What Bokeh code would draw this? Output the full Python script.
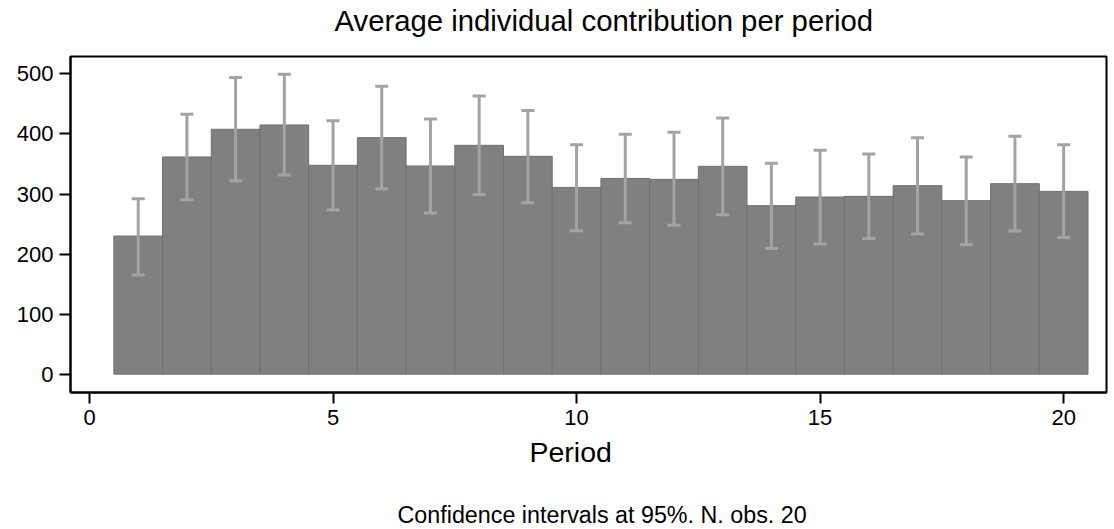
from bokeh.plotting import figure
from bokeh.models import Range1d, FixedTicker, Whisker, TeeHead, ColumnDataSource, Title
from bokeh.embed import file_html
from bokeh.resources import INLINE

# ---- data ----
periods = list(range(1, 21))
means = [230, 361.7, 407.8, 415, 347.8, 393.9, 346.7, 381.1, 362.8, 311,
         326, 324.4, 346.1, 280.6, 295, 296.1, 313.9, 288.9, 317.2, 304.4]
upper = [292.2, 432.8, 493.9, 499.4, 422.2, 479.4, 425, 463.3, 438.9, 382.2,
         399.4, 402.8, 426.7, 351.1, 372.8, 366.7, 393.9, 361.7, 396.1, 382.2]
lower = [165, 290.6, 322.2, 331.7, 273.3, 308.9, 268.4, 299.4, 285.6, 238.9,
         252.2, 247.8, 265.6, 209.4, 216.7, 226.1, 233.3, 216.1, 238.3, 227.5]
x_ticks = [0, 5, 10, 15, 20]
y_ticks = [0, 100, 200, 300, 400, 500]

title_text = "Average individual contribution per period"
x_title = "Period"
caption = "Confidence intervals at 95%. N. obs. 20"

FONT = "Liberation Sans"

W, H = 1108, 529
F_LEFT, F_TOP, F_RIGHT, F_BOTTOM = 70, 56, 1106, 392

src = ColumnDataSource(dict(x=periods, top=means, upper=upper, lower=lower))

p = figure(width=W, height=H,
           x_range=Range1d(-0.39, 20.88), y_range=Range1d(-30.5, 529),
           output_backend="svg", toolbar_location=None,
           min_border_left=F_LEFT, min_border_right=W - F_RIGHT,
           min_border_top=F_TOP, min_border_bottom=H - F_BOTTOM)

p.vbar(x="x", top="top", width=1.0, source=src,
       fill_color="#808080", line_color="#6f6f6f", line_width=1)

err_color = "#a3a3a3"
p.add_layout(Whisker(source=src, base="x", upper="upper", lower="lower",
                     level="overlay",
                     line_color=err_color, line_width=3,
                     upper_head=TeeHead(size=13, line_color=err_color, line_width=3),
                     lower_head=TeeHead(size=13, line_color=err_color, line_width=3)))

# axes
for ax in (p.xaxis[0], p.yaxis[0]):
    ax.major_tick_out = 11
    ax.major_tick_in = 0
    ax.minor_tick_line_color = None
    ax.axis_line_width = 2
    ax.axis_line_color = "black"
    ax.major_tick_line_width = 2
    ax.major_tick_line_color = "black"
    ax.major_label_text_font = FONT
    ax.major_label_text_font_size = "22px"
    ax.major_label_text_color = "black"
p.xaxis.ticker = FixedTicker(ticks=x_ticks)
p.yaxis.ticker = FixedTicker(ticks=y_ticks)
p.xaxis.major_label_standoff = 6
p.yaxis.major_label_standoff = 6

p.xgrid.grid_line_color = None
p.ygrid.grid_line_color = None
p.outline_line_color = "black"
p.outline_line_width = 2
p.outline_line_alpha = 1.0
p.background_fill_color = "white"
p.border_fill_color = "white"


def spacer(gap):
    return Title(text=" ", text_font_size="10px", standoff=gap)


def txt(text, size, left_offset, standoff=0):
    return Title(text=text, align="left", offset=left_offset, text_font=FONT,
                 text_font_size=size, text_font_style="normal",
                 text_color="black", standoff=standoff)


# above (first added = closest to the frame)
p.title.text = ""
p.add_layout(spacer(7.4), "above")
p.add_layout(txt(title_text, "29.3px", 264), "above")

# below (after the x axis)
p.add_layout(txt(x_title, "28.5px", 459, standoff=13), "below")
p.add_layout(spacer(11.5), "below")
p.add_layout(txt(caption, "23.3px", 327), "below")

open("out.html", "w").write(file_html(p, INLINE))
